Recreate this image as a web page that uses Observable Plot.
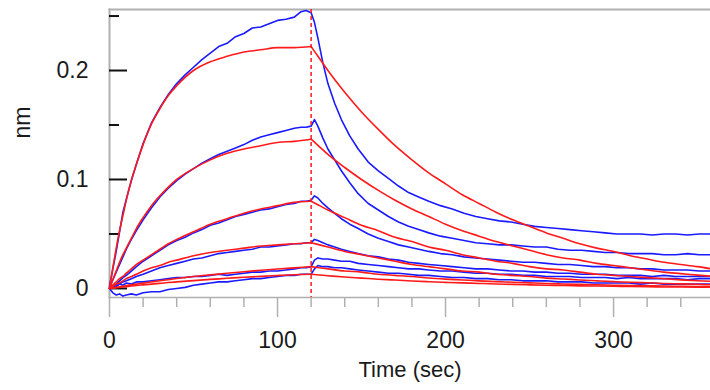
<!DOCTYPE html>
<html><head><meta charset="utf-8">
<script src="https://cdn.jsdelivr.net/npm/d3@7"></script>
<script src="https://cdn.jsdelivr.net/npm/@observablehq/plot@0.6"></script>
<style>html,body{margin:0;padding:0;background:#fff}#chart{width:710px;height:390px}</style>
</head><body><div id="chart"></div>
<script>
// ---- axis ticks ----
const xMajorTicks = [0, 100, 200, 300];
const xMinorTicks = [20, 40, 60, 80, 120, 140, 160, 180, 220, 240, 260, 280, 320, 340];
const yMajorTicks = [0, 0.1, 0.2];
const yMinorTicks = [0.05, 0.15, 0.25];
const dissociationStart = [120];

// ---- measured traces (blue), time in sec, response in nm ----
const traceTime = [0,2,4,6,8,10,13,16,20,25,30,35,40,45,50,55,60,65,70,75,80,85,90,95,100,105,110,114,117,120,
  122,124,127,130,134,138,143,148,154,160,166,172,178,184,190,
  197,204,211,218,225,232,239,246,253,260,267,274,281,288,295,302,309,316,323,330,337,344,351,358];
const trace1 = [.002,.018,.034,.052,.070,.082,.099,.114,.133,.152,.166,.178,.188,.196,.203,.210,.216,.222,.225,.231,.234,.239,.240,.243,.246,.247,.249,.254,.255,.253,
  .244,.230,.207,.188,.170,.155,.140,.128,.116,.108,.101,.094,.088,.084,.080,
  .076,.073,.069,.066,.064,.062,.061,.059,.057,.056,.055,.054,.053,.052,.051,.050,.050,.050,.049,.050,.050,.049,.050,.050];
const trace2 = [.001,.008,.015,.022,.029,.036,.045,.053,.063,.074,.084,.092,.099,.105,.110,.115,.119,.123,.126,.129,.132,.136,.139,.141,.143,.145,.147,.148,.148,.149,
  .155,.149,.138,.128,.118,.108,.097,.087,.078,.072,.066,.061,.057,.054,.051,
  .048,.046,.044,.042,.041,.040,.040,.039,.038,.038,.036,.035,.035,.034,.033,.033,.032,.032,.032,.031,.031,.032,.031,.031];
const trace3 = [0,.002,.004,.007,.010,.012,.016,.020,.025,.030,.035,.040,.044,.047,.051,.054,.058,.060,.063,.066,.068,.070,.072,.073,.075,.077,.078,.080,.080,.081,
  .085,.083,.078,.074,.069,.064,.059,.055,.050,.046,.043,.040,.038,.036,.034,
  .032,.031,.029,.028,.027,.026,.025,.024,.024,.023,.022,.022,.021,.020,.020,.019,.019,.018,.018,.017,.017,.017,.016,.016];
const trace4 = [0,.001,.003,.004,.006,.007,.009,.011,.013,.016,.019,.021,.023,.025,.027,.028,.030,.032,.033,.034,.035,.036,.038,.038,.039,.040,.041,.041,.042,.042,
  .045,.044,.042,.040,.038,.036,.034,.032,.030,.029,.027,.026,.024,.023,.022,
  .021,.020,.019,.018,.018,.017,.016,.016,.015,.015,.014,.014,.013,.013,.013,.012,.012,.012,.011,.012,.011,.011,.011,.011];
const trace5 = [.001,.003,.002,.004,.003,.005,.004,.006,.006,.007,.008,.009,.010,.010,.011,.011,.012,.013,.012,.013,.014,.015,.015,.016,.016,.017,.018,.019,.019,.020,
  .026,.028,.027,.027,.026,.025,.025,.023,.022,.021,.020,.019,.018,.018,.017,
  .016,.016,.015,.014,.014,.013,.013,.012,.012,.011,.011,.011,.010,.010,.010,.009,.010,.009,.009,.009,.009,.008,.009,.009];
const trace6 = [0,-.004,-.006,-.005,-.007,-.006,-.005,-.006,-.004,-.003,-.003,-.001,0,.001,.003,.004,.005,.006,.006,.007,.008,.009,.009,.010,.011,.012,.012,.013,.013,.013,
  .018,.021,.020,.020,.019,.019,.018,.017,.016,.015,.014,.014,.013,.012,.012,
  .011,.010,.010,.009,.009,.008,.008,.007,.007,.007,.006,.006,.006,.005,.005,.005,.005,.004,.005,.004,.004,.004,.004,.004];

// ---- fitted curves (red) ----
const fitAssocTime = [0,2,4,6,8,10,13,16,20,25,30,35,40,50,60,70,80,90,100,110,120];
const fitAssoc1 = [0,.019,.037,.053,.067,.081,.099,.114,.132,.151,.165,.177,.186,.200,.208,.213,.217,.219,.221,.221,.222];
const fitAssoc2 = [0,.008,.016,.024,.031,.037,.046,.055,.065,.076,.085,.093,.100,.110,.118,.124,.128,.131,.134,.135,.137];
const fitAssoc3 = [0,.003,.006,.009,.011,.014,.018,.022,.026,.031,.036,.041,.045,.052,.059,.064,.069,.073,.076,.079,.080];
const fitAssoc4 = [0,.002,.004,.005,.007,.009,.011,.013,.016,.019,.021,.024,.026,.030,.033,.035,.037,.039,.040,.041,.042];
const fitAssoc5 = [0,.0005,.001,.0016,.0021,.0026,.0033,.004,.0049,.006,.0071,.0081,.0091,.0109,.0125,.014,.0154,.0167,.0178,.0189,.020];
const fitAssoc6 = [0,.0004,.0007,.0011,.0014,.0017,.0022,.0027,.0033,.004,.0047,.0054,.006,.0072,.0083,.0093,.0103,.0111,.0119,.0126,.013];
const fitDissocTime = [120,125,130,140,150,160,170,180,190,200,210,220,230,240,250,260,270,280,290,300,310,320,330,340,350,358];
const fitDissoc1 = [.222,.211,.200,.180,.162,.146,.131,.118,.106,.096,.086,.078,.070,.063,.057,.051,.046,.041,.037,.034,.030,.027,.024,.022,.020,.018];
const fitDissoc2 = [.137,.130,.123,.111,.100,.090,.081,.073,.066,.059,.053,.048,.043,.039,.035,.031,.028,.026,.023,.021,.019,.017,.015,.0136,.0122,.0112];
const fitDissoc3 = [.080,.076,.072,.065,.058,.053,.047,.043,.038,.035,.031,.028,.025,.023,.020,.018,.017,.015,.013,.012,.011,.0099,.0089,.0079,.0071,.0066];
const fitDissoc4 = [.042,.040,.038,.034,.031,.028,.025,.022,.020,.018,.016,.015,.013,.012,.011,.0095,.0087,.0078,.0070,.0063,.0057,.0052,.0046,.0042,.0038,.0034];
const fitDissoc5 = [.020,.019,.018,.016,.015,.013,.012,.011,.0096,.0086,.0078,.0070,.0063,.0057,.0051,.0046,.0041,.0037,.0034,.0030,.0027,.0025,.0022,.0020,.0018,.0016];
const fitDissoc6 = [.013,.0123,.0117,.0105,.0095,.0085,.0077,.0069,.0062,.0056,.0051,.0046,.0041,.0037,.0033,.0030,.0027,.0024,.0022,.0020,.0018,.0016,.0014,.0013,.0012,.0011];

const traces = [trace1, trace2, trace3, trace4, trace5, trace6];
const fitAssoc = [fitAssoc1, fitAssoc2, fitAssoc3, fitAssoc4, fitAssoc5, fitAssoc6];
const fitDissoc = [fitDissoc1, fitDissoc2, fitDissoc3, fitDissoc4, fitDissoc5, fitDissoc6];

const traceRows = traces.flatMap((vals, k) => traceTime.map((t, i) => ({t, v: vals[i], id: "b" + k})));
const fitRows = [
  ...fitAssoc.flatMap((vals, k) => fitAssocTime.map((t, i) => ({t, v: vals[i], id: "a" + k}))),
  ...fitDissoc.flatMap((vals, k) => fitDissocTime.map((t, i) => ({t, v: vals[i], id: "d" + k})))
];

const BLUE = "#1a1aff", RED = "#ff1a1a", GRID = "#b0b0b0", INK = "#1a1a1a";
const fmtY = d => d === 0 ? "0" : d.toFixed(1);

const chart = Plot.plot({
  width: 710, height: 390,
  marginLeft: 109, marginRight: 0, marginTop: 9, marginBottom: 93,
  style: {fontFamily: "'Liberation Sans', Arial, sans-serif", fontSize: "23px", color: INK, background: "#fff", overflow: "visible"},
  x: {domain: [0, 357.7]},
  y: {domain: [-0.0083, 0.256]},
  marks: [
    Plot.frame({anchor: "top", stroke: GRID, strokeWidth: 2}),
    Plot.frame({anchor: "left", stroke: GRID, strokeWidth: 2}),
    Plot.frame({anchor: "bottom", stroke: GRID, strokeWidth: 1.5}),
    Plot.axisX({ticks: xMajorTicks, tickSize: 20, tickPadding: 14, stroke: GRID, strokeWidth: 1.5, fill: INK, label: null, tickFormat: d => String(d)}),
    Plot.axisX({ticks: xMinorTicks, tickSize: 10, stroke: GRID, strokeWidth: 1.5, fill: "none", label: null}),
    Plot.axisY({ticks: yMajorTicks, tickSize: 0, tickPadding: 21, fill: INK, label: null, tickFormat: fmtY}),
    Plot.tickY(yMajorTicks, {y: d => d, insetRight: 601 - 18, stroke: "#111", strokeWidth: 2}),
    Plot.tickY(yMinorTicks, {y: d => d, insetRight: 601 - 10, stroke: "#111", strokeWidth: 2}),
    Plot.line(traceRows, {x: "t", y: "v", z: "id", stroke: BLUE, strokeWidth: 1.6}),
    Plot.line(fitRows, {x: "t", y: "v", z: "id", stroke: RED, strokeWidth: 1.6, curve: "monotone-x"}),
    Plot.ruleX(dissociationStart, {x: d => d, stroke: RED, strokeWidth: 1.5, strokeDasharray: "4,3"}),
    Plot.text(["nm"], {text: d => d, frameAnchor: "left", dx: -87, dy: -15, rotate: -90, fill: INK}),
    Plot.text(["Time (sec)"], {text: d => d, frameAnchor: "bottom", dy: 79, fontSize: 22, fill: INK})
  ]
});
document.getElementById("chart").append(chart);
</script>
</body></html>
